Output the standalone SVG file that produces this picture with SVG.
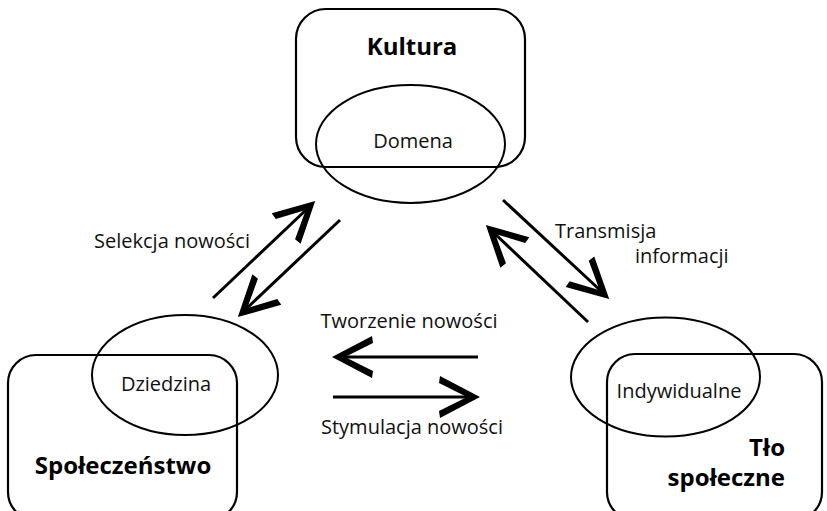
<svg xmlns="http://www.w3.org/2000/svg" width="827" height="511" viewBox="0 0 827 511">
<defs>
<style>
.box{fill:none;stroke:#000;stroke-width:2.2}
.ell{fill:none;stroke:#000;stroke-width:2}
.t{font-family:"Open Sans","Liberation Sans",sans-serif;font-size:20px;fill:#111}
.b{font-family:"Open Sans","Liberation Sans",sans-serif;font-size:24px;font-weight:bold;fill:#000}
.ln{stroke:#000;stroke-width:3;fill:none}
.ah{fill:#000}
</style>
<path id="head" d="M3,0 L-37,-21 L-38,-14 L-10,0 L-38,14 L-37,21 Z"/>
</defs>
<g id="kultura">
<rect class="box" x="296" y="9" width="229" height="158" rx="30"/>
<ellipse class="ell" cx="410.5" cy="144" rx="94.5" ry="59"/>
<text class="b" x="412" y="55" text-anchor="middle">Kultura</text>
<text class="t" x="413" y="148" text-anchor="middle">Domena</text>
</g>
<g id="spoleczenstwo">
<rect class="box" x="8" y="355" width="229" height="165" rx="28"/>
<ellipse class="ell" cx="185" cy="375" rx="93" ry="60"/>
<text class="t" x="166" y="391" text-anchor="middle">Dziedzina</text>
<text class="b" x="123" y="474" text-anchor="middle">Społeczeństwo</text>
</g>
<g id="tlo">
<rect class="box" x="607" y="354" width="215" height="166" rx="28"/>
<ellipse class="ell" cx="665.5" cy="377" rx="94.5" ry="59.5"/>
<text class="t" x="679" y="398" text-anchor="middle">Indywidualne</text>
<text class="b" x="785" y="456" text-anchor="end">Tło</text>
<text class="b" x="785" y="486" text-anchor="end">społeczne</text>
</g>
<g id="connectors">
<line class="ln" x1="213" y1="298" x2="307" y2="209"/>
<use href="#head" class="ah" transform="translate(313,203) rotate(-43.5)"/>
<line class="ln" x1="340" y1="220" x2="246" y2="309"/>
<use href="#head" class="ah" transform="translate(240,315) rotate(136.5)"/>
<line class="ln" x1="503" y1="200" x2="601" y2="291"/>
<use href="#head" class="ah" transform="translate(607,297) rotate(43)"/>
<line class="ln" x1="588" y1="322" x2="494" y2="233"/>
<use href="#head" class="ah" transform="translate(488,227) rotate(223.5)"/>
<line class="ln" x1="478" y1="357" x2="343" y2="357"/>
<use href="#head" class="ah" transform="translate(335,357) rotate(180)"/>
<line class="ln" x1="333" y1="397" x2="469" y2="397"/>
<use href="#head" class="ah" transform="translate(477,397)"/>
</g>
<g id="labels">
<text class="t" x="172" y="248" text-anchor="middle">Selekcja nowości</text>
<text class="t" x="555" y="238">Transmisja</text>
<text class="t" x="635" y="263">informacji</text>
<text class="t" x="409" y="328" text-anchor="middle">Tworzenie nowości</text>
<text class="t" x="412" y="434" text-anchor="middle">Stymulacja nowości</text>
</g>
</svg>
